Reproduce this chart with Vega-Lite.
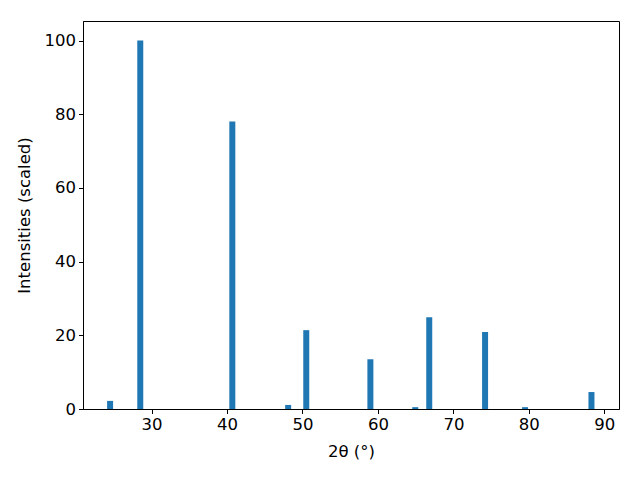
{
  "$schema": "https://vega.github.io/schema/vega-lite/v6.json",
  "width": 536,
  "height": 388,
  "autosize": {"type": "none"},
  "padding": {"left": 83, "top": 21, "right": 21, "bottom": 71},
  "background": "white",
  "data": {
    "values": [
      {"two_theta": 24.5, "intensity": 2.2},
      {"two_theta": 28.5, "intensity": 100},
      {"two_theta": 40.7, "intensity": 78},
      {"two_theta": 48.1, "intensity": 1.1},
      {"two_theta": 50.5, "intensity": 21.4},
      {"two_theta": 59.0, "intensity": 13.5},
      {"two_theta": 64.95, "intensity": 0.5},
      {"two_theta": 66.8, "intensity": 24.9},
      {"two_theta": 74.2, "intensity": 20.9},
      {"two_theta": 79.5, "intensity": 0.5},
      {"two_theta": 88.3, "intensity": 4.6}
    ]
  },
  "config": {
    "font": "DejaVu Sans",
    "view": {"stroke": "black", "strokeWidth": 1},
    "axis": {
      "grid": false,
      "domainColor": "black",
      "tickColor": "black",
      "tickSize": 4.5,
      "labelFontSize": 16.5,
      "labelColor": "black",
      "titleFontSize": 16.5,
      "titleFontWeight": "normal",
      "titleColor": "black",
      "labelFont": "DejaVu Sans",
      "titleFont": "DejaVu Sans"
    }
  },
  "mark": {"type": "bar", "color": "#1f77b4", "size": 6},
  "encoding": {
    "x": {
      "field": "two_theta",
      "type": "quantitative",
      "scale": {"domain": [20.91, 91.95], "nice": false, "zero": false, "padding": 0},
      "axis": {"values": [30, 40, 50, 60, 70, 80, 90], "title": "2θ (°)", "labelPadding": 3, "titlePadding": 10}
    },
    "y": {
      "field": "intensity",
      "type": "quantitative",
      "scale": {"domain": [0, 105.3], "nice": false, "padding": 0},
      "axis": {"values": [0, 20, 40, 60, 80, 100], "title": "Intensities (scaled)", "labelPadding": 3, "titlePadding": 12}
    }
  }
}
